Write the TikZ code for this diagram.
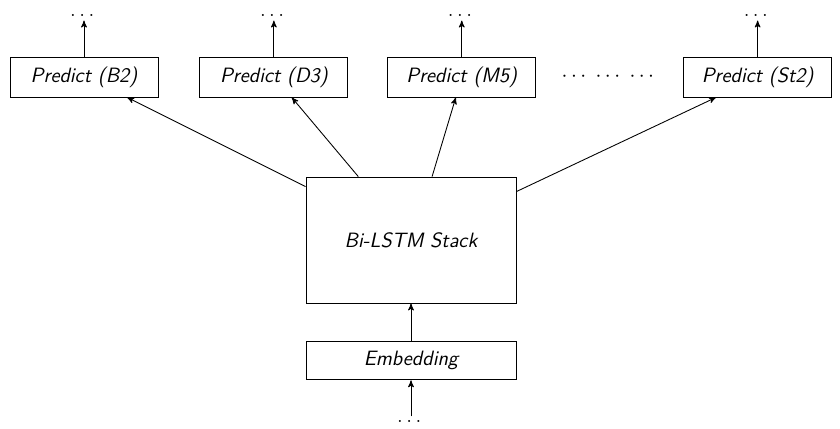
\documentclass[tikz,border=0pt]{standalone}
\usepackage{amsmath}
\usepackage{tikz}
\usetikzlibrary{shapes,arrows,positioning,calc}

\begin{document}
\begin{tikzpicture}[font=\fontsize{11.8}{14}\selectfont\sffamily\itshape, >=stealth', line width=0.5pt,
    predbox/.style={draw, minimum width=2.96cm, minimum height=0.8cm},
    bigbox/.style={draw, minimum width=4.2cm},
    more/.style={inner sep=2pt}]
            \useasboundingbox (0,0) rectangle (16.8,-8.58);
            \node[predbox] (b2) at (1.68,-1.54) {Predict (B2)};
            \node[predbox, right=0.82cm of b2] (d3) {Predict (D3)};
            \node[predbox, right=0.78cm of d3] (m5) {Predict (M5)};
            \node[predbox, right=2.94cm of m5] (st2) {Predict (St2)};
            \node[more] (gap) at ($(m5.east)!0.5!(st2.west)$) {$\cdots\;\cdots\;\cdots$};
            
            \node[more, above=0.72cm of b2] (b2out) {$\dots$};
            \node[more, above=0.72cm of d3] (d3out) {$\dots$};
            \node[more, above=0.72cm of m5] (m5out) {$\dots$};
            \node[more, above=0.72cm of st2] (st2out) {$\dots$};
            
            \node[bigbox, minimum height=2.52cm] (lstm) at (8.22,-4.8) {Bi-LSTM Stack};
            \node[bigbox, minimum height=0.76cm, below=0.76cm of lstm] (emb) {Embedding};
            \node[more, below=0.72cm of emb] (inp) {$\dots$};
            
            \draw[->] (inp) -- (emb);
            \draw[->] (emb) -- (lstm);
            \draw[->] (b2) -- (b2out);
            \draw[->] (d3) -- (d3out);
            \draw[->] (m5) -- (m5out);
            \draw[->] (st2) -- (st2out);
            
            \draw[->] ($(lstm.north west)+(0,-0.2)$) -- ($(b2.south west)!0.79!(b2.south east)$);
            \draw[->] ($(lstm.north west)!0.25!(lstm.north east)$) -- ($(d3.south west)!0.62!(d3.south east)$);
            \draw[->] ($(lstm.north west)!0.6!(lstm.north east)$) -- ($(m5.south west)!0.46!(m5.south east)$);
            \draw[->] ($(lstm.north east)+(0,-0.3)$) -- ($(st2.south west)!0.22!(st2.south east)$);
        \end{tikzpicture}
\end{document}
